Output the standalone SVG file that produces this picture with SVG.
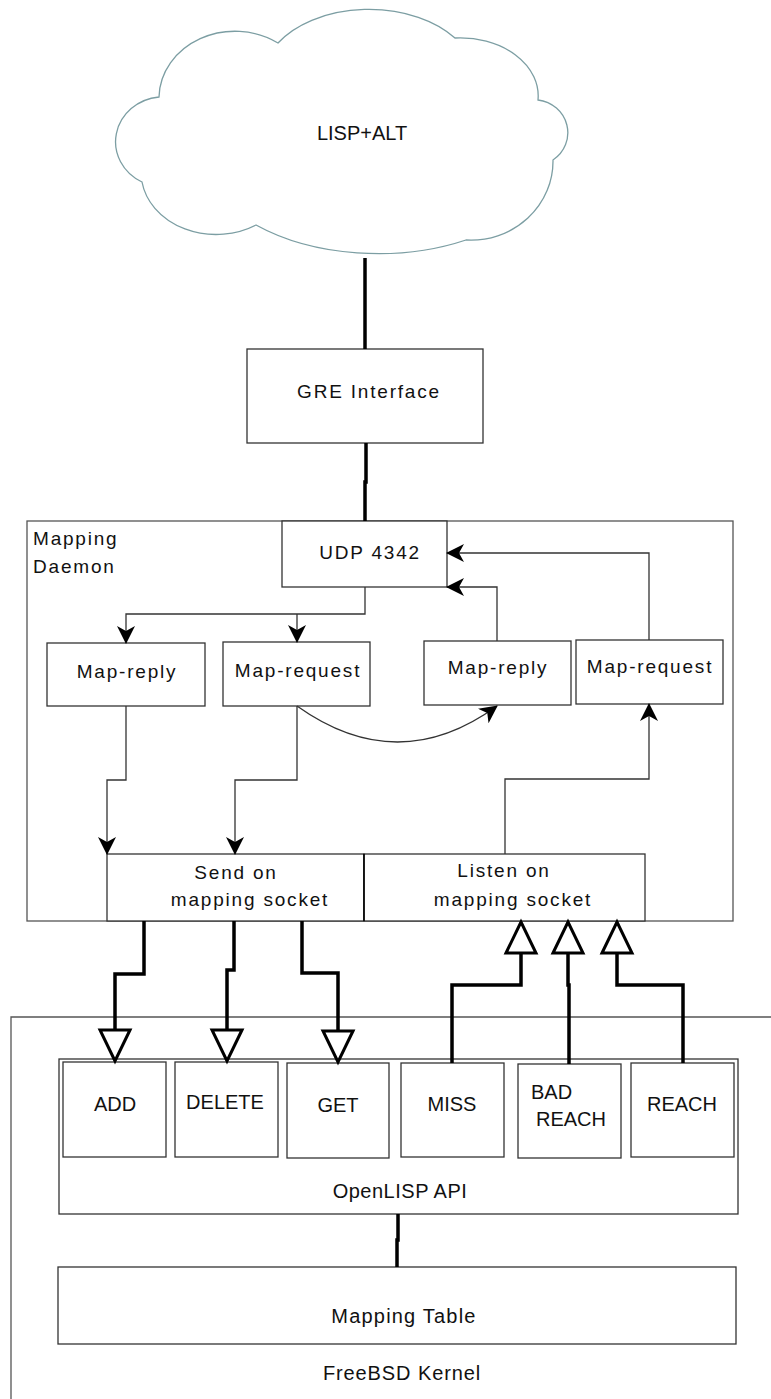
<svg xmlns="http://www.w3.org/2000/svg" width="771" height="1399" viewBox="0 0 771 1399">
  <style>
    .box { fill: #fff; stroke: #333; stroke-width: 1.3; }
    .frame { fill: none; stroke: #555; stroke-width: 1.3; }
    .lbl { font-family: "Liberation Sans", Arial, sans-serif; font-size: 19px; letter-spacing: 1.8px; fill: #111; }
    .klbl { font-family: "Liberation Sans", Arial, sans-serif; font-size: 20px; fill: #111; }
    .mid { text-anchor: middle; }
    .thin { fill: none; stroke: #333; stroke-width: 1.3; marker-end: url(#arrow); }
    .thinplain { fill: none; stroke: #333; stroke-width: 1.3; }
    .thick { fill: none; stroke: #000; stroke-width: 3.5; }
    .api { fill: none; stroke: #000; stroke-width: 3.5; marker-end: url(#hollow); }
  </style>
  <defs>
    <!-- filled concave arrowhead for the daemon-internal flows -->
    <marker id="arrow" markerUnits="userSpaceOnUse" viewBox="0 0 18 18" refX="17" refY="9" markerWidth="18" markerHeight="18" orient="auto">
      <path d="M0,0 L18,9 L0,18 L5,9 Z" fill="#000"/>
    </marker>
    <!-- open triangle for the kernel API messages; base sits on the line end -->
    <marker id="hollow" markerUnits="userSpaceOnUse" viewBox="-2 -2 35 34" refX="0" refY="15" markerWidth="35" markerHeight="34" orient="auto" overflow="visible">
      <path d="M0,0 L31,15 L0,30 Z" fill="#fff" stroke="#000" stroke-width="3" stroke-linejoin="miter"/>
    </marker>
  </defs>

  <rect width="771" height="1399" fill="#fff"/>

  <!-- kernel frame (open to the right and bottom) -->
  <g id="kernel">
    <path class="frame" d="M771,1017 H11 V1399"/>
    <text class="klbl mid" x="402" y="1380" style="letter-spacing:0.9px">FreeBSD Kernel</text>
  </g>

  <!-- mapping daemon frame -->
  <g id="daemon">
    <rect class="frame" x="27" y="521" width="706" height="400"/>
    <text class="lbl" x="33" y="545">Mapping</text>
    <text class="lbl" x="33" y="573">Daemon</text>
  </g>

  <!-- LISP+ALT cloud -->
  <g id="cloud">
    <path d="M159,97 A76,67 0 0 1 278,43 A106,69 0 0 1 455,38 A78,58 0 0 1 538,100 A34,33 0 0 1 553,160 A82,79 0 0 1 466,240 A181,109 0 0 1 256,225 A75,62 0 0 1 142,182 A48,45 0 0 1 159,97 Z" fill="#fff" stroke="#7c9ea3" stroke-width="1.3"/>
    <text class="klbl mid" x="362" y="140">LISP+ALT</text>
  </g>

  <g id="gre">
    <rect class="box" x="247" y="349" width="236" height="94"/>
    <text class="lbl mid" x="369" y="398">GRE Interface</text>
  </g>

  <g id="udp">
    <rect class="box" x="282" y="521" width="165" height="66"/>
    <text class="lbl mid" x="370" y="559">UDP 4342</text>
  </g>

  <g id="map-reply-out">
    <rect class="box" x="47" y="643" width="158" height="63"/>
    <text class="lbl mid" x="127" y="678">Map-reply</text>
  </g>
  <g id="map-request-out">
    <rect class="box" x="223" y="642" width="147" height="64"/>
    <text class="lbl mid" x="298" y="677">Map-request</text>
  </g>
  <g id="map-reply-in">
    <rect class="box" x="424" y="641" width="147" height="64"/>
    <text class="lbl mid" x="498" y="674">Map-reply</text>
  </g>
  <g id="map-request-in">
    <rect class="box" x="576" y="640" width="147" height="64"/>
    <text class="lbl mid" x="650" y="673">Map-request</text>
  </g>

  <g id="send-socket">
    <rect class="box" x="107" y="854" width="257" height="67"/>
    <text class="lbl mid" x="236" y="879">Send on</text>
    <text class="lbl mid" x="250" y="906">mapping socket</text>
  </g>
  <g id="listen-socket">
    <rect class="box" x="364" y="854" width="281" height="67"/>
    <line x1="364" y1="854" x2="364" y2="921" stroke="#000" stroke-width="1.5"/>
    <text class="lbl mid" x="504" y="877">Listen on</text>
    <text class="lbl mid" x="513" y="906">mapping socket</text>
  </g>

  <!-- OpenLISP API with its message types -->
  <g id="openlisp-api">
    <rect class="box" x="59" y="1059" width="679" height="155"/>
    <text class="klbl mid" x="400" y="1198" style="letter-spacing:0.5px">OpenLISP API</text>
  </g>
  <g id="api-add">
    <rect class="box" x="63" y="1062" width="103" height="95"/>
    <text class="klbl mid" x="115" y="1111">ADD</text>
  </g>
  <g id="api-delete">
    <rect class="box" x="175" y="1062" width="103" height="95"/>
    <text class="klbl mid" x="225" y="1109">DELETE</text>
  </g>
  <g id="api-get">
    <rect class="box" x="287" y="1063" width="102" height="95"/>
    <text class="klbl mid" x="338" y="1112">GET</text>
  </g>
  <g id="api-miss">
    <rect class="box" x="401" y="1063" width="103" height="94"/>
    <text class="klbl mid" x="452" y="1111">MISS</text>
  </g>
  <g id="api-bad-reach">
    <rect class="box" x="518" y="1064" width="103" height="94"/>
    <text class="klbl" x="531" y="1099">BAD</text>
    <text class="klbl" x="536" y="1126">REACH</text>
  </g>
  <g id="api-reach">
    <rect class="box" x="631" y="1063" width="103" height="94"/>
    <text class="klbl mid" x="682" y="1111">REACH</text>
  </g>

  <g id="mapping-table">
    <rect class="box" x="58" y="1267" width="678" height="77"/>
    <text class="klbl mid" x="404" y="1323" style="letter-spacing:1.2px">Mapping Table</text>
  </g>

  <!-- connectors -->
  <g id="connectors">
    <!-- physical links -->
    <path class="thick" d="M365,258 V349"/>
    <path class="thick" d="M366,443 V482 H365 V521"/>
    <path class="thick" d="M398,1214 V1240 H397 V1267"/>

    <!-- UDP 4342 dispatch to outgoing handlers -->
    <path class="thin" d="M365,587 V614 H126 V643"/>
    <path class="thin" d="M297,614 V642"/>

    <!-- incoming handlers back to UDP 4342 -->
    <path class="thin" d="M497,641 V587 H447"/>
    <path class="thin" d="M649,640 V553 H447"/>

    <!-- handlers to the send socket -->
    <path class="thin" d="M126,706 V780 H107 V854"/>
    <path class="thin" d="M297,706 V780 H235 V854"/>

    <!-- request answered by reply -->
    <path class="thin" d="M297,706 Q398,778 497,706"/>

    <!-- listen socket raises requests -->
    <path class="thin" d="M505,854 V779 H649 V704"/>

    <!-- send socket to API (down) -->
    <path class="api" d="M144,921 V974 H115 V1030"/>
    <path class="api" d="M234,921 V970 H227 V1030"/>
    <path class="api" d="M302,921 V973 H338 V1031"/>

    <!-- API notifications to listen socket (up) -->
    <path class="api" d="M452,1063 V985 H521 V953"/>
    <path class="api" d="M569,1064 V985 H568 V953"/>
    <path class="api" d="M683,1063 V985 H617 V953"/>
  </g>
</svg>
